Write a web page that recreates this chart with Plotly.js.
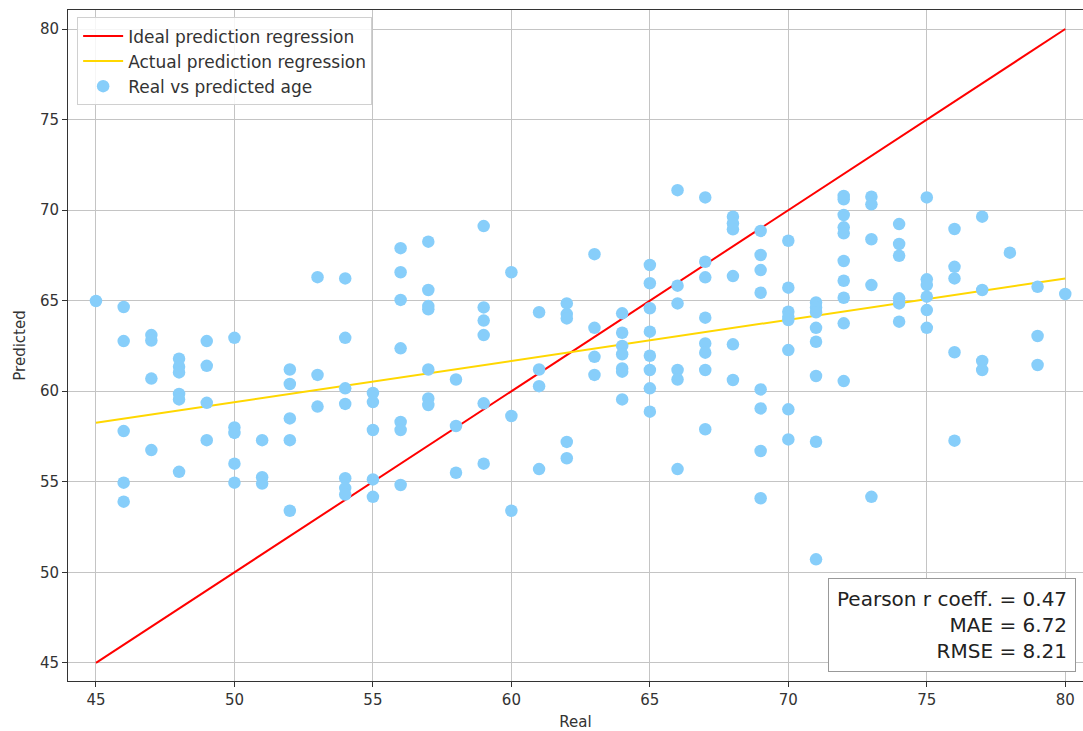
<!DOCTYPE html>
<html>
<head>
<meta charset="utf-8">
<script src="https://cdn.plot.ly/plotly-3.0.1.min.js"></script>
<style>html,body{margin:0;padding:0;background:#fff;}#chart{width:1083px;height:731px;}</style>
</head>
<body>
<div id="chart"></div>
<script>
// Real ages (x) and predicted ages (y)
const realAge = [
  45,
  46,46,46,46,46,
  47,47,47,47,
  48,48,48,48,48,48,
  49,49,49,49,
  50,50,50,50,50,
  51,51,51,
  52,52,52,52,52,
  53,53,53,
  54,54,54,54,54,54,54,
  55,55,55,55,55,
  56,56,56,56,56,56,56,
  57,57,57,57,57,57,57,
  58,58,58,
  59,59,59,59,59,59,
  60,60,60,
  61,61,61,61,
  62,62,62,62,62,
  63,63,63,63,
  64,64,64,64,64,64,64,
  65,65,65,65,65,65,65,65,
  66,66,66,66,66,66,
  67,67,67,67,67,67,67,67,
  68,68,68,68,68,68,
  69,69,69,69,69,69,69,69,
  70,70,70,70,70,70,70,70,
  71,71,71,71,71,71,71,71,
  72,72,72,72,72,72,72,72,72,72,
  73,73,73,73,73,
  74,74,74,74,74,74,
  75,75,75,75,75,75,
  76,76,76,76,76,
  77,77,77,77,
  78,
  79,79,79,
  80
];
const predictedAge = [
  64.98,
  64.65, 62.77, 57.8, 54.95, 53.9,
  63.1, 62.8, 60.7, 56.75,
  61.8, 61.35, 61.04, 59.85, 59.55, 55.55,
  62.77, 61.4, 59.36, 57.3,
  62.95, 58.0, 57.7, 56.0, 54.95,
  57.3, 55.25, 54.9,
  61.2, 60.4, 58.5, 57.3, 53.4,
  66.3, 60.9, 59.15,
  66.23, 62.95, 60.16, 59.3, 55.2, 54.65, 54.3,
  59.9, 59.4, 57.86, 55.13, 54.17,
  67.9, 66.57, 65.04, 62.37, 58.3, 57.86, 54.82,
  68.26, 65.59, 64.7, 64.52, 61.2, 59.6, 59.24,
  60.65, 58.08, 55.5,
  69.12, 64.63, 63.9, 63.1, 59.33, 56.0,
  66.57, 58.63, 53.4,
  64.36, 61.2, 60.28, 55.7,
  64.85, 64.26, 64.02, 57.2, 56.3,
  67.57, 63.5, 61.9, 60.9,
  64.3, 63.23, 62.5, 62.04, 61.26, 61.08, 59.55,
  66.97, 65.96, 64.58, 63.29, 61.96, 61.17, 60.16, 58.87,
  71.1, 65.83, 64.85, 61.17, 60.65, 55.7,
  70.7, 67.15, 66.29, 64.06, 62.64, 62.13, 61.17, 57.9,
  69.64, 69.27, 68.94, 66.36, 62.59, 60.62,
  68.85, 67.52, 66.69, 65.44, 60.1, 59.05, 56.7, 54.09,
  68.31, 65.72, 64.39, 64.11, 63.93, 62.27, 59.0, 57.34,
  64.9, 64.63, 64.36, 63.5, 62.73, 60.84, 57.21, 50.72,
  70.78, 70.6, 69.73, 69.05, 68.72, 67.19, 66.1, 65.16, 63.75, 60.56,
  70.74, 70.32, 68.39, 65.86, 54.17,
  69.23, 68.13, 67.48, 65.13, 64.85, 63.84,
  70.7, 66.18, 65.86, 65.22, 64.48, 63.5,
  68.96, 66.87, 66.23, 62.15, 57.27,
  69.64, 65.59, 61.67, 61.17,
  67.65,
  65.77, 63.05, 61.45,
  65.37
];
const statLabels = ["Pearson r coeff. = 0.47", "MAE = 6.72", "RMSE = 8.21"];
const xTicks = [45, 50, 55, 60, 65, 70, 75, 80];
const yTicks = [45, 50, 55, 60, 65, 70, 75, 80];

// Least-squares fit of predicted on real
const n = realAge.length;
const mx = realAge.reduce((a, b) => a + b, 0) / n;
const my = predictedAge.reduce((a, b) => a + b, 0) / n;
let sxy = 0, sxx = 0;
for (let i = 0; i < n; i++) { sxy += (realAge[i] - mx) * (predictedAge[i] - my); sxx += (realAge[i] - mx) ** 2; }
const slope = sxy / sxx, intercept = my - slope * mx;
const xmin = Math.min(...realAge), xmax = Math.max(...realAge);
const fitX = [xmin, xmax];
const fitY = fitX.map(v => intercept + slope * v);

const font = "DejaVu Sans, sans-serif";
const traces = [
  {x: [xmin, xmax], y: [xmin, xmax], mode: "lines", name: "Ideal prediction regression",
   line: {color: "#ff0000", width: 2}},
  {x: fitX, y: fitY, mode: "lines", name: "Actual prediction regression",
   line: {color: "#ffd700", width: 2}},
  {x: realAge, y: predictedAge, mode: "markers", name: "Real vs predicted age",
   marker: {color: "#87cefa", size: 12.5}}
];

const axisCommon = {
  showgrid: true, gridcolor: "#c4c4c4", gridwidth: 1,
  zeroline: false, showline: true, linecolor: "#333", linewidth: 1, mirror: true,
  ticks: "outside", ticklen: 5, tickcolor: "#333", tickwidth: 1,
  tickfont: {family: font, size: 15, color: "#333"}
};

const layout = {
  width: 1083, height: 731,
  margin: {l: 68, r: 0, t: 10, b: 50},
  paper_bgcolor: "#fff", plot_bgcolor: "#fff",
  font: {family: font, color: "#333"},
  xaxis: Object.assign({}, axisCommon, {
    range: [43.99, 80.64], tickvals: xTicks, ticktext: xTicks.map(String),
    title: {text: "Real", font: {family: font, size: 15, color: "#333"}, standoff: 8}
  }),
  yaxis: Object.assign({}, axisCommon, {
    range: [44.0, 81.05], tickvals: yTicks, ticktext: yTicks.map(String),
    title: {text: "Predicted", font: {family: font, size: 15, color: "#333"}, standoff: 10}
  }),
  showlegend: true,
  legend: {x: 0.009, y: 0.989, xanchor: "left", yanchor: "top",
    bgcolor: "rgba(255,255,255,0.85)", bordercolor: "#d0d0d0", borderwidth: 1,
    font: {family: font, size: 17, color: "#333"}, tracegroupgap: 0, itemwidth: 40},
  annotations: [{
    xref: "paper", yref: "paper", x: 0.9935, y: 0.013, xanchor: "right", yanchor: "bottom",
    text: statLabels.join("<br>"), align: "right", showarrow: false,
    font: {family: font, size: 20, color: "#222"},
    bgcolor: "#fff", bordercolor: "#999", borderwidth: 1, borderpad: 8
  }]
};

Plotly.newPlot("chart", traces, layout, {displayModeBar: false, staticPlot: true});
</script>
</body>
</html>
